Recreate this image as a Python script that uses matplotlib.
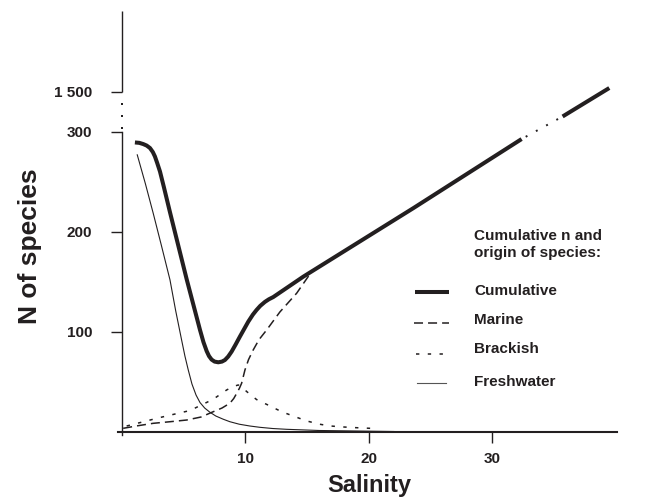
import matplotlib
matplotlib.use("Agg")
import matplotlib.pyplot as plt
from matplotlib.lines import Line2D

plt.rcParams['font.family'] = ['Liberation Sans', 'DejaVu Sans']
plt.rcParams['font.weight'] = 'bold'

C = '#231f20'

# ---- data (y in display units; values above 300 are on the broken scale, 340 == 1 500)
cum_x_low = [1.05, 1.4, 1.72, 2.0, 2.27, 2.5, 2.67, 2.85, 3.08, 3.4, 3.89, 5.24, 6.32,
             6.6, 6.86, 7.05, 7.26, 7.5, 7.80, 8.1, 8.34, 8.6, 8.88, 9.2, 9.55, 10.23,
             10.6, 10.9, 11.2, 11.58, 11.9, 12.25, 14.68, 23.59, 32.36]
cum_y_low = [289.4, 289.0, 287.8, 286.3, 283.8, 279.8, 275.4, 269.0, 260.3, 244.5, 219.5,
             152.5, 101.7, 89.5, 80.5, 75.5, 72.0, 70.0, 69.3, 70.0, 71.6, 75.0, 80.0,
             87.0, 95.0, 110.0, 117.0, 121.7, 125.8, 129.8, 132.4, 134.6, 155.0, 223.6, 292.8]
cum_x_high = [35.68, 39.46]
cum_y_high = [315.4, 343.9]

fresh_x = [1.24, 1.9, 2.53, 3.2, 3.89, 4.35, 4.83, 5.1, 5.37, 5.67, 6.0, 6.32, 6.7, 7.1,
           7.6, 8.2, 8.74, 9.5, 10.36, 11.17, 12.2, 13.34, 16.0, 22.0]
fresh_y = [277.0, 248.0, 218.6, 186.0, 151.8, 121.0, 91.7, 75.5, 61.6, 47.5, 36.5, 29.0,
           23.5, 19.5, 15.5, 12.3, 9.8, 7.3, 5.5, 4.2, 3.0, 2.2, 1.0, 0.0]

marine_x = [0.1, 1.3, 2.53, 3.9, 5.24, 6.4, 7.39, 8.1, 8.74, 9.05, 9.31, 9.52, 9.69, 9.96,
            10.25, 10.63, 11.1, 11.72, 12.79, 14.15, 15.36]
marine_y = [3.2, 5.8, 8.2, 9.8, 11.5, 14.5, 19.8, 23.5, 28.3, 33.0, 38.6, 43.5, 48.3, 61.6,
            72.0, 81.7, 92.0, 101.7, 119.7, 138.5, 160.1]

brack_x = [0.38, 3.08, 5.51, 7.39, 8.48, 9.0, 9.42, 9.8, 10.1, 10.9, 11.98, 12.93, 13.87,
           14.9, 15.9, 16.9, 17.97, 19.0, 20.1]
brack_y = [5.5, 14.0, 21.0, 32.3, 41.6, 45.0, 46.6, 43.5, 40.0, 32.0, 25.6, 19.8, 15.5,
           10.8, 7.5, 5.5, 4.5, 3.8, 3.2]

x_ticks = [10, 20, 30]
x_ticklabels = ['10', '20', '30']
y_ticks = [100, 200, 300, 340]
y_ticklabels = ['100', '200', '300', '1 500']

legend_labels = ['Cumulative', 'Marine', 'Brackish', 'Freshwater']

# ---- styles
cum_style = dict(color=C, lw=2.9, solid_capstyle='butt', solid_joinstyle='round')
marine_style = dict(color=C, lw=1.1, linestyle=(0, (5.9, 3.3)))
brack_style = dict(color=C, lw=1.1, linestyle=(0, (2.2, 5.5)))
fresh_style = dict(color=C, lw=0.8, solid_joinstyle='round')

W, H = 657, 499
fig = plt.figure(figsize=(W / 100, H / 100), dpi=100)
ax = fig.add_axes([117 / W, 1 - 435.5 / H, 500.2 / W, 424.5 / H])
ax.set_xlim(-0.4, 40.1)
ax.set_ylim(-4, 421)

# curves
ax.plot(fresh_x, fresh_y, **fresh_style)
ax.plot(brack_x, brack_y, **brack_style)
ax.plot(marine_x, marine_y, **marine_style)
ax.plot(cum_x_low, cum_y_low, **cum_style)
ax.plot(cum_x_high, cum_y_high, **cum_style)
ax.plot([cum_x_low[-1], cum_x_high[0]], [cum_y_low[-1], cum_y_high[0]],
        color=C, lw=1.4, linestyle=(3.6, (1.0, 5.0)), dash_capstyle='butt')

# axes spines
for s in ['top', 'right']:
    ax.spines[s].set_visible(False)
ax.spines['left'].set_position(('data', 0))
ax.spines['bottom'].set_position(('data', 0))
ax.spines['left'].set_bounds(-3, 300)
ax.spines['bottom'].set_bounds(-0.33, 40.1)
ax.spines['left'].set_linewidth(1.0)
ax.spines['bottom'].set_linewidth(1.5)
ax.spines['left'].set_color(C)
ax.spines['bottom'].set_color(C)
# upper part of the broken y axis
ax.plot([0, 0], [340, 421], color=C, lw=1.0, clip_on=False, solid_capstyle='butt')
ax.plot([0, 0, 0], [304, 316, 328], ls='none', marker='s', ms=1.6, mew=0, color=C,
        clip_on=False)

ax.set_xticks(x_ticks)
ax.set_xticklabels(x_ticklabels)
ax.set_yticks(y_ticks)
ax.set_yticklabels(y_ticklabels)
ax.tick_params(axis='both', direction='out', length=8, width=1.0, color=C,
               labelsize=11, labelcolor=C)
ax.tick_params(axis='y', pad=13.5)
ax.tick_params(axis='x', pad=6.5)
for lab in ax.get_xticklabels() + ax.get_yticklabels():
    lab.set_fontweight('bold')

# axis labels
fig.text(369 / W, 1 - 491.7 / H, 'Salinity', ha='center', va='baseline',
         fontsize=17, fontweight='bold', color=C)
fig.text(36.7 / W, 1 - 246 / H, 'N of species', ha='center', va='baseline',
         rotation=90, rotation_mode='anchor', fontsize=19, fontweight='bold', color=C)

# legend (manual)
fig.text(474 / W, 1 - 236 / H, 'Cumulative n and', ha='left', va='center',
         fontsize=11, fontweight='bold', color=C)
fig.text(474 / W, 1 - 253 / H, 'origin of species:', ha='left', va='center',
         fontsize=11, fontweight='bold', color=C)
key_styles = [cum_style, dict(marine_style), dict(brack_style), dict(color='#555555', lw=0.8)]
key_y = [292.3, 322.7, 354.0, 382.7]
text_y = [290.8, 320.0, 349.0, 382.5]
key_x = [[415, 449], [414, 449], [416, 449], [417, 446]]
for lab, st, ky, ty, kx in zip(legend_labels, key_styles, key_y, text_y, key_x):
    fig.add_artist(Line2D([kx[0] / W, kx[1] / W], [1 - ky / H, 1 - ky / H],
                          transform=fig.transFigure, **st))
    fig.text(474 / W, 1 - ty / H, lab, ha='left', va='center',
             fontsize=11, fontweight='bold', color=C)

fig.savefig('out.png', dpi=100)
